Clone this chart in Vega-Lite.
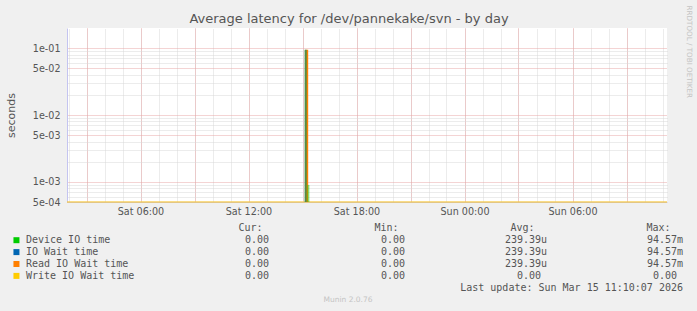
{
  "$schema": "https://vega.github.io/schema/vega-lite/v6.json",
  "width": 600,
  "height": 174,
  "autosize": "none",
  "padding": {"left": 67, "top": 28, "right": 30, "bottom": 109},
  "background": "#f0f0f0",
  "config": {"view": {"stroke": null, "fill": "#ffffff"}},
  "title": {
    "text": "Average latency for /dev/pannekake/svn - by day",
    "anchor": "middle",
    "frame": "group",
    "dx": -18,
    "dy": 35,
    "offset": 4,
    "baseline": "alphabetic",
    "font": "DejaVu Sans",
    "fontSize": 13,
    "fontWeight": "normal",
    "color": "#555555"
  },
  "datasets": {
    "spikes": [
      {"series": "Read IO Wait time", "start": "2026-03-14T15:08:00", "end": "2026-03-14T15:19:00", "value": 0.09457},
      {"series": "Device IO time", "start": "2026-03-14T15:07:00", "end": "2026-03-14T15:14:00", "value": 0.09457},
      {"series": "IO Wait time", "start": "2026-03-14T15:07:00", "end": "2026-03-14T15:14:00", "value": 0.09457},
      {"series": "Device IO time", "start": "2026-03-14T15:16:00", "end": "2026-03-14T15:23:00", "value": 0.0009}
    ],
    "stats": [
      {"series": "Device IO time", "cur": "0.00", "min": "0.00", "avg": "239.39", "avgUnit": "u", "max": "94.57", "maxUnit": "m"},
      {"series": "IO Wait time", "cur": "0.00", "min": "0.00", "avg": "239.39", "avgUnit": "u", "max": "94.57", "maxUnit": "m"},
      {"series": "Read IO Wait time", "cur": "0.00", "min": "0.00", "avg": "239.39", "avgUnit": "u", "max": "94.57", "maxUnit": "m"},
      {"series": "Write IO Wait time", "cur": "0.00", "min": "0.00", "avg": "0.00", "avgUnit": "", "max": "0.00", "maxUnit": ""}
    ]
  },
  "layer": [
    {
      "data": {"values": [{}]},
      "mark": {"type": "rule", "color": "#f5c842", "strokeWidth": 1.5, "opacity": 0.85},
      "encoding": {
        "x": {
          "datum": {"year": 2026, "month": 3, "date": 14, "hours": 1, "minutes": 55},
          "type": "temporal",
          "scale": {"domain": [{"year": 2026, "month": 3, "date": 14, "hours": 1, "minutes": 55}, {"year": 2026, "month": 3, "date": 15, "hours": 11, "minutes": 15}]},
          "axis": {"orient": "top", "tickCount": 34, "grid": true, "gridColor": "#d8d8d8", "gridDash": [1, 1], "labels": false, "ticks": false, "domain": false, "title": null}
        },
        "x2": {"datum": {"year": 2026, "month": 3, "date": 15, "hours": 11, "minutes": 15}},
        "y": {
          "datum": 0.0005,
          "type": "quantitative",
          "scale": {"type": "log", "domain": [0.0005, 0.2], "nice": false},
          "axis": {
            "orient": "right",
            "values": [0.0006, 0.0007, 0.0008, 0.0009, 0.002, 0.003, 0.004, 0.006, 0.007, 0.008, 0.009, 0.02, 0.03, 0.04, 0.06, 0.07, 0.08, 0.09],
            "grid": true, "gridColor": "#d8d8d8", "gridDash": [1, 1],
            "labels": false, "ticks": false, "domain": false,
            "title": "RRDTOOL / TOBI OETIKER",
            "titleX": 21, "titleY": -23, "titleAngle": 90, "titleAlign": "left", "titleBaseline": "middle",
            "titleFont": "DejaVu Sans", "titleFontSize": 7.2, "titleFontWeight": "normal", "titleColor": "#c4c4c4"
          }
        }
      }
    },
    {
      "data": {"name": "spikes"},
      "transform": [{"filter": "datum.series == 'Read IO Wait time'"}],
      "mark": {"type": "rect", "color": "#ff8000"},
      "encoding": {
        "x": {
          "field": "start", "type": "temporal",
          "scale": {"domain": [{"year": 2026, "month": 3, "date": 14, "hours": 1, "minutes": 55}, {"year": 2026, "month": 3, "date": 15, "hours": 11, "minutes": 15}]},
          "axis": {
            "orient": "bottom",
            "labelExpr": "hours(datum.value) % 6 == 0 ? timeFormat(datum.value, '%a %H:%M') : ''",
            "labelOverlap": false, "labelFlush": false,
            "grid": true, "gridColor": "#e8a8a8", "gridDash": [1, 1],
            "ticks": false, "tickSize": 0, "labelPadding": 4,
            "domainColor": "#c4c4f0",
            "labelFont": "DejaVu Sans", "labelFontSize": 9.6, "labelColor": "#555555",
            "title": null
          }
        },
        "x2": {"field": "end"},
        "y": {
          "field": "value", "type": "quantitative",
          "scale": {"type": "log", "domain": [0.0005, 0.2], "nice": false},
          "axis": {
            "orient": "left",
            "values": [0.0005, 0.001, 0.005, 0.01, 0.05, 0.1],
            "labelExpr": "replace(format(datum.value, '.0e'), 'e-', 'e-0')",
            "grid": true, "gridColor": "#e8a8a8", "gridDash": [1, 1],
            "ticks": false, "tickSize": 0, "labelPadding": 7,
            "domainColor": "#c4c4f0",
            "labelFont": "DejaVu Sans", "labelFontSize": 9.6, "labelColor": "#555555",
            "title": "seconds", "titleFont": "DejaVu Sans", "titleFontSize": 11, "titleFontWeight": "normal", "titleColor": "#555555",
            "titleX": -56, "titleY": 87, "titleAngle": -90, "titleAlign": "center", "titleBaseline": "middle"
          }
        },
        "y2": {"datum": 0.0005}
      }
    },
    {
      "data": {"name": "spikes"},
      "transform": [{"filter": "datum.series != 'Read IO Wait time'"}],
      "mark": {"type": "rect"},
      "encoding": {
        "x": {
          "field": "start", "type": "temporal",
          "scale": {"domain": [{"year": 2026, "month": 3, "date": 14, "hours": 1, "minutes": 55}, {"year": 2026, "month": 3, "date": 15, "hours": 11, "minutes": 15}]},
          "axis": null
        },
        "x2": {"field": "end"},
        "y": {
          "field": "value", "type": "quantitative",
          "scale": {"type": "log", "domain": [0.0005, 0.2], "nice": false},
          "axis": null
        },
        "y2": {"datum": 0.0005},
        "color": {
          "field": "series", "type": "nominal",
          "scale": {"domain": ["Device IO time", "IO Wait time", "Read IO Wait time", "Write IO Wait time"], "range": ["#00cc00", "#0066b3", "#ff8000", "#ffcc00"]},
          "legend": null
        },
        "opacity": {
          "field": "series", "type": "nominal",
          "scale": {"domain": ["Device IO time", "IO Wait time", "Read IO Wait time", "Write IO Wait time"], "range": [0.45, 0.25, 1, 1]},
          "legend": null
        }
      }
    },
    {
      "layer": [
        {
          "data": {"name": "stats"},
          "mark": {"type": "square", "filled": true, "size": 36, "opacity": 1},
          "encoding": {
            "x": {"datum": -0.857, "type": "quantitative", "scale": {"type": "linear", "domain": [0, 4], "range": [66, 610], "nice": false, "zero": false}, "axis": null},
            "y": {"field": "series", "type": "ordinal", "scale": {"type": "point", "domain": ["hdr", "Device IO time", "IO Wait time", "Read IO Wait time", "Write IO Wait time", "upd", "munin"], "range": [200.3, 271.7], "padding": 0}, "axis": null},
            "color": {"field": "series", "type": "nominal", "legend": null}
          }
        },
        {
          "data": {"name": "stats"},
          "mark": {"type": "text", "align": "left", "baseline": "middle", "font": "DejaVu Sans Mono", "fontSize": 10, "color": "#555555"},
          "encoding": {
            "x": {"datum": -0.787, "type": "quantitative", "axis": null},
            "y": {"field": "series", "type": "ordinal", "axis": null},
            "text": {"field": "series"}
          }
        },
        {
          "data": {"name": "stats"},
          "mark": {"type": "text", "align": "right", "baseline": "middle", "font": "DejaVu Sans Mono", "fontSize": 10, "color": "#555555"},
          "encoding": {
            "x": {"datum": 1, "type": "quantitative", "axis": null},
            "y": {"field": "series", "type": "ordinal", "axis": null},
            "text": {"field": "cur"}
          }
        },
        {
          "data": {"name": "stats"},
          "mark": {"type": "text", "align": "right", "baseline": "middle", "font": "DejaVu Sans Mono", "fontSize": 10, "color": "#555555"},
          "encoding": {
            "x": {"datum": 2, "type": "quantitative", "axis": null},
            "y": {"field": "series", "type": "ordinal", "axis": null},
            "text": {"field": "min"}
          }
        },
        {
          "data": {"name": "stats"},
          "mark": {"type": "text", "align": "right", "baseline": "middle", "font": "DejaVu Sans Mono", "fontSize": 10, "color": "#555555"},
          "encoding": {
            "x": {"datum": 3, "type": "quantitative", "axis": null},
            "y": {"field": "series", "type": "ordinal", "axis": null},
            "text": {"field": "avg"}
          }
        },
        {
          "data": {"name": "stats"},
          "mark": {"type": "text", "align": "left", "baseline": "middle", "font": "DejaVu Sans Mono", "fontSize": 10, "color": "#555555"},
          "encoding": {
            "x": {"datum": 3, "type": "quantitative", "axis": null},
            "y": {"field": "series", "type": "ordinal", "axis": null},
            "text": {"field": "avgUnit"}
          }
        },
        {
          "data": {"name": "stats"},
          "mark": {"type": "text", "align": "right", "baseline": "middle", "font": "DejaVu Sans Mono", "fontSize": 10, "color": "#555555"},
          "encoding": {
            "x": {"datum": 4, "type": "quantitative", "axis": null},
            "y": {"field": "series", "type": "ordinal", "axis": null},
            "text": {"field": "max"}
          }
        },
        {
          "data": {"name": "stats"},
          "mark": {"type": "text", "align": "left", "baseline": "middle", "font": "DejaVu Sans Mono", "fontSize": 10, "color": "#555555"},
          "encoding": {
            "x": {"datum": 4, "type": "quantitative", "axis": null},
            "y": {"field": "series", "type": "ordinal", "axis": null},
            "text": {"field": "maxUnit"}
          }
        },
        {
          "data": {"values": [{}]},
          "mark": {"type": "text", "text": "Cur:", "align": "right", "baseline": "middle", "dx": -6.5, "font": "DejaVu Sans Mono", "fontSize": 10, "color": "#555555"},
          "encoding": {
            "x": {"datum": 1, "type": "quantitative", "axis": null},
            "y": {"datum": "hdr", "type": "ordinal", "axis": null}
          }
        },
        {
          "data": {"values": [{}]},
          "mark": {"type": "text", "text": "Min:", "align": "right", "baseline": "middle", "dx": -6.5, "font": "DejaVu Sans Mono", "fontSize": 10, "color": "#555555"},
          "encoding": {
            "x": {"datum": 2, "type": "quantitative", "axis": null},
            "y": {"datum": "hdr", "type": "ordinal", "axis": null}
          }
        },
        {
          "data": {"values": [{}]},
          "mark": {"type": "text", "text": "Avg:", "align": "right", "baseline": "middle", "dx": -6.5, "font": "DejaVu Sans Mono", "fontSize": 10, "color": "#555555"},
          "encoding": {
            "x": {"datum": 3, "type": "quantitative", "axis": null},
            "y": {"datum": "hdr", "type": "ordinal", "axis": null}
          }
        },
        {
          "data": {"values": [{}]},
          "mark": {"type": "text", "text": "Max:", "align": "right", "baseline": "middle", "dx": -6.5, "font": "DejaVu Sans Mono", "fontSize": 10, "color": "#555555"},
          "encoding": {
            "x": {"datum": 4, "type": "quantitative", "axis": null},
            "y": {"datum": "hdr", "type": "ordinal", "axis": null}
          }
        },
        {
          "data": {"values": [{}]},
          "mark": {"type": "text", "text": "Last update: Sun Mar 15 11:10:07 2026", "align": "right", "baseline": "middle", "font": "DejaVu Sans Mono", "fontSize": 10, "color": "#555555"},
          "encoding": {
            "x": {"datum": 4.044, "type": "quantitative", "axis": null},
            "y": {"datum": "upd", "type": "ordinal", "axis": null}
          }
        },
        {
          "data": {"values": [{}]},
          "mark": {"type": "text", "text": "Munin 2.0.76", "align": "center", "baseline": "middle", "font": "DejaVu Sans", "fontSize": 7.5, "color": "#c4c4c4"},
          "encoding": {
            "x": {"datum": 1.581, "type": "quantitative", "axis": null},
            "y": {"datum": "munin", "type": "ordinal", "axis": null}
          }
        }
      ]
    }
  ],
  "resolve": {"scale": {"x": "independent", "y": "independent"}}
}
